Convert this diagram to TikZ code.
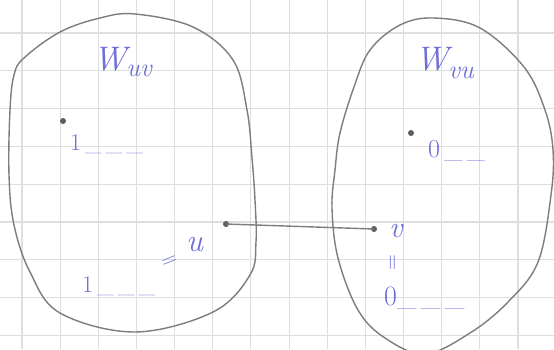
\documentclass[tikz,border=0pt]{standalone}
\definecolor{ink}{RGB}{110,110,215}
\definecolor{pencil}{RGB}{125,125,125}
\definecolor{gridc}{RGB}{222,222,222}
\begin{document}
\begin{tikzpicture}[x=1pt,y=-1pt,
  gridline/.style={gridc,line width=1.1pt},
  blob/.style={pencil,line width=1.4pt},
  hand/.style={ink,inner sep=0pt},
  dotpt/.style={circle,fill=pencil!75!black,inner sep=0pt,minimum size=6pt},
  link/.style={pencil,line width=1.4pt}]
\useasboundingbox (0,0) rectangle (554,349);
\fill[white] (0,0) rectangle (554,349);
\begin{scope}
\clip (0,0) rectangle (554,349);
\foreach \i in {0,...,14} \draw[gridline] ({22+38.15*\i},0) -- ({22+38.15*\i},349);
\foreach \j in {0,...,9} \draw[gridline] (0,{-4.8+37.8*\j}) -- (554,{-4.8+37.8*\j});
\draw[blob] plot[smooth cycle,tension=0.6] coordinates {
 (135,14) (193,27) (233,60) (247,110) (252,158) (255,200) (256,242) (250,275)
 (213,312) (135,332) (60,313) (30,272) (14,225) (9,175) (10,110) (14,75)
 (24,58) (60,32) (100,18)};
\draw[blob] plot[smooth cycle,tension=0.6] coordinates {
 (434,18) (480,28) (524,67) (545,110) (553,150) (551,195) (538,262) (508,302)
 (470,333) (425,354) (385,338) (358,310) (338,258) (332,208) (335,170) (340,133)
 (354,87) (370,50) (400,25)};
\end{scope}
\node[dotpt] (d1) at (63,121) {};
\node[dotpt] (du) at (226,224) {};
\node[dotpt] (dv) at (374,229) {};
\node[dotpt] (d0) at (411,133) {};
\draw[link] (du.center) -- (dv.center);
% labels
\node[hand,anchor=base west] (wuv) at (93,70) {\fontsize{34}{34}\selectfont\itshape W\raisebox{-6pt}{\fontsize{26}{26}\selectfont uv}};
\node[hand,anchor=base west] (wvu) at (415,70) {\fontsize{34}{34}\selectfont\itshape W\raisebox{-8pt}{\fontsize{26}{26}\selectfont vu}};
\node[hand,anchor=base west] (one1) at (70,150) {\fontsize{24}{24}\selectfont 1\,\_\,\_\,\_};
\node[hand,anchor=base west] (ul) at (186,251) {\fontsize{32}{32}\selectfont\itshape u};
\node[hand,rotate=22] (eq1) at (170,262) {\fontsize{22}{22}\selectfont =};
\node[hand,anchor=base west] (one2) at (82,292) {\fontsize{24}{24}\selectfont 1\,\_\,\_\,\_};
\node[hand,anchor=base west] (z1) at (428,157) {\fontsize{26}{26}\selectfont 0\,\_\,\_};
\node[hand,anchor=base west] (vl) at (389,237) {\fontsize{30}{30}\selectfont\itshape v};
\node[hand,rotate=90] (eq2) at (394,263) {\fontsize{22}{22}\selectfont =};
\node[hand,anchor=base west] (z2) at (384,305) {\fontsize{28}{28}\selectfont 0\_\,\_\,\_};
\end{tikzpicture}
\end{document}
